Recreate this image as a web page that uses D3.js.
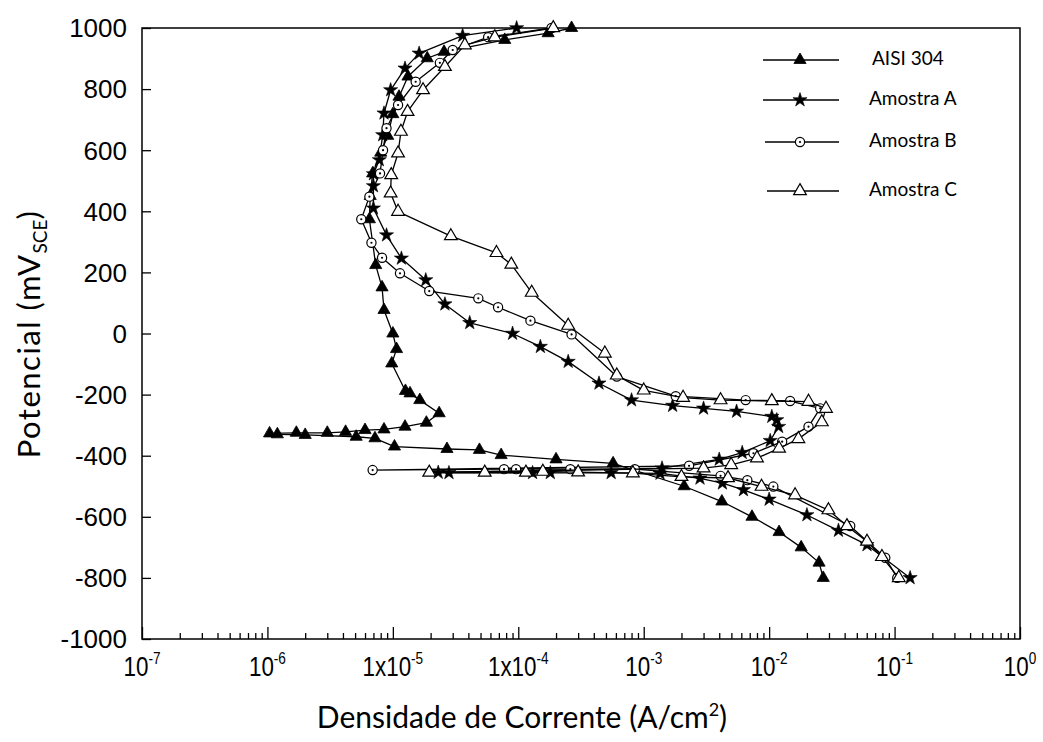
<!DOCTYPE html>
<html>
<head>
<meta charset="utf-8">
<script src="https://cdn.jsdelivr.net/npm/d3@7"></script>
<style>
  html, body { margin: 0; padding: 0; background: #fff; }
  svg { display: block; }
</style>
</head>
<body>
<svg id="chart" width="1043" height="742"></svg>
<script>
// Potentiodynamic polarization curves: [current density (A/cm²), potential (mV SCE)]
const aisi304 = [
  [0.027,-800],[0.025,-750],[0.018,-700],[0.012,-650],[0.0073,-600],[0.0042,-550],[0.0021,-500],
  [5.7e-4,-425],[2.0e-4,-412],[7.3e-5,-398],[4.9e-5,-381],[2.7e-5,-378],[1.03e-5,-370],[7.2e-6,-343],
  [5.1e-6,-338],[2.0e-6,-332],[1.2e-6,-330],[1.04e-6,-327],[1.7e-6,-325],[3.0e-6,-325],[4.2e-6,-322],
  [6.0e-6,-316],[8.5e-6,-314],[1.25e-5,-305],[1.85e-5,-292],[2.34e-5,-261],[1.64e-5,-218],[1.37e-5,-196],
  [1.26e-5,-188],[9.8e-6,-98],[1.07e-5,-51],[1.0e-5,0],[8.5e-6,77],[8.2e-6,151],[7.3e-6,224],
  [6.5e-6,374],[6.6e-6,450],[6.9e-6,524],[8.0e-6,592],[9.1e-6,647],[1.0e-5,718],[1.12e-5,775],
  [1.32e-5,841],[1.88e-5,901],[2.56e-5,922],[7.8e-5,961],[1.73e-4,983],[2.66e-4,1000]
];
const amostraA = [
  [0.133,-800],[0.0603,-692],[0.0357,-645],[0.020,-594],[0.010,-543],[0.00624,-512],[0.00424,-490],
  [0.00281,-474],[0.00135,-458],[5.5e-4,-456],[1.8e-4,-456],[1.3e-4,-456],[2.8e-5,-456],[2.3e-5,-455],
  [1.4e-3,-441],[4.0e-3,-412],[6.1e-3,-390],[1.02e-2,-351],[1.19e-2,-305],[1.15e-2,-283],[1.05e-2,-272],
  [5.5e-3,-255],[3.0e-3,-245],[1.7e-3,-236],[8.0e-4,-218],[4.4e-4,-163],[2.5e-4,-92],[1.5e-4,-43],
  [9.0e-5,0],[4.1e-5,35],[2.6e-5,96],[1.83e-5,175],[1.17e-5,246],[8.9e-6,322],[7.0e-6,410],
  [7.0e-6,483],[7.0e-6,522],[7.8e-6,568],[8.3e-6,650],[8.5e-6,721],[9.6e-6,797],[1.25e-5,868],
  [1.62e-5,917],[3.6e-5,975],[9.7e-5,1000]
];
const amostraB = [
  [0.105,-800],[0.0843,-734],[0.0443,-630],[0.0108,-501],[6.7e-3,-480],[4.1e-3,-466],[8.5e-4,-444],
  [2.6e-4,-444],[9.6e-5,-444],[7.7e-5,-444],[6.9e-6,-447],
  [2.3e-3,-433],[7.5e-3,-392],[1.27e-2,-354],[2.06e-2,-305],[2.55e-2,-245],[1.47e-2,-221],[6.5e-3,-218],
  [1.8e-3,-205],[6.1e-4,-141],[2.66e-4,-3],[1.25e-4,42],[6.9e-5,86],[4.8e-5,115],[1.95e-5,139],
  [1.14e-5,197],[8.2e-6,248],[6.75e-6,297],[5.6e-6,374],[6.5e-6,448],[7.9e-6,524],[8.35e-6,600],
  [8.9e-6,672],[1.1e-5,748],[1.52e-5,824],[2.37e-5,886],[3.0e-5,928],[5.75e-5,970],[1.84e-4,1000]
];
const amostraC = [
  [0.108,-800],[0.0793,-731],[0.0603,-681],[0.0417,-630],[0.0297,-578],[0.0161,-529],[8.7e-3,-501],
  [4.7e-3,-473],[2.0e-3,-469],[8.2e-4,-457],[3.0e-4,-454],[1.57e-4,-452],[1.15e-4,-455],[5.4e-5,-455],
  [1.95e-5,-455],
  [3.0e-3,-441],[4.98e-3,-430],[8.0e-3,-408],[1.2e-2,-376],[1.71e-2,-345],[2.63e-2,-290],[2.84e-2,-246],
  [2.06e-2,-223],[1.05e-2,-221],[4.1e-3,-218],[2.06e-3,-210],[1.0e-3,-186],[6.1e-4,-137],[4.9e-4,-65],
  [2.5e-4,26],[1.28e-4,134],[8.8e-5,226],[6.7e-5,264],[2.9e-5,319],[1.1e-5,399],[9.6e-6,459],
  [9.7e-6,519],[1.1e-5,590],[1.16e-5,661],[1.31e-5,726],[1.74e-5,797],[2.6e-5,873],[3.75e-5,944],
  [6.5e-5,970],[1.9e-4,1000]
];

const seriesNames = ["AISI 304", "Amostra A", "Amostra B", "Amostra C"];
const seriesMarkers = ["filledTriangle", "star", "dotCircle", "openTriangle"];
const xTickValues = [1e-7, 1e-6, 1e-5, 1e-4, 1e-3, 1e-2, 1e-1, 1];
const xTickBases = ["10", "10", "1x10", "1x10", "10", "10", "10", "10"];
const xTickExps = ["-7", "-6", "-5", "-4", "-3", "-2", "-1", "0"];
const yTickValues = [-1000, -800, -600, -400, -200, 0, 200, 400, 600, 800, 1000];
const xTitle = "Densidade de Corrente (A/cm";
const yTitle = "Potencial (mV";

const W = 1043, H = 742;
const margin = { left: 142, right: 23, top: 28, bottom: 103 };
const svg = d3.select("#chart");

const x = d3.scaleLog().domain([1e-7, 1]).range([margin.left, W - margin.right]);
const y = d3.scaleLinear().domain([-1000, 1000]).range([H - margin.bottom, margin.top]);

// frame
svg.append("rect")
  .attr("x", margin.left).attr("y", margin.top)
  .attr("width", W - margin.left - margin.right)
  .attr("height", H - margin.top - margin.bottom)
  .attr("fill", "none").attr("stroke", "#000").attr("stroke-width", 1.5);

// x axis: inward major and minor ticks
const minorTicks = [];
for (let e = -7; e < 0; e++) for (let m = 2; m <= 9; m++) minorTicks.push(m * Math.pow(10, e));

const xAxisG = svg.append("g").attr("transform", `translate(0,${H - margin.bottom})`);
xAxisG.call(d3.axisBottom(x).tickValues(xTickValues).tickSize(-12).tickFormat(""));
xAxisG.append("g").call(d3.axisBottom(x).tickValues(minorTicks).tickSize(-6).tickFormat(""));
xAxisG.selectAll(".domain").remove();
xAxisG.selectAll("line").attr("stroke", "#000").attr("stroke-width", 1.3);

const xLabels = svg.append("g")
  .style("font-family", "'Liberation Sans Narrow', 'Arial Narrow', 'Liberation Sans', sans-serif")
  .attr("fill", "#000");
xTickValues.forEach((v, i) => {
  const t = xLabels.append("text")
    .attr("transform", `translate(${x(v)},676) scale(0.8,1)`)
    .attr("text-anchor", "middle")
    .attr("font-size", 28);
  t.append("tspan").text(xTickBases[i]);
  t.append("tspan").attr("dy", -12).attr("font-size", 17).text(xTickExps[i]);
});

// y axis
const yAxisG = svg.append("g").attr("transform", `translate(${margin.left},0)`);
yAxisG.call(d3.axisLeft(y).tickValues(yTickValues).tickSize(-9).tickFormat(""));
yAxisG.selectAll(".domain").remove();
yAxisG.selectAll("line").attr("stroke", "#000").attr("stroke-width", 1.3);

svg.append("g")
  .style("font-family", "'Liberation Sans', Arial, sans-serif")
  .selectAll("text").data(yTickValues).join("text")
  .attr("x", 127).attr("y", d => y(d)).attr("dy", "0.36em")
  .attr("text-anchor", "end").attr("font-size", 26).attr("fill", "#000")
  .text(d => d);

// axis titles
const xt = svg.append("text")
  .attr("x", 522).attr("y", 728)
  .attr("text-anchor", "middle")
  .style("font-family", "Lato, 'Open Sans', sans-serif")
  .attr("font-size", 30).attr("fill", "#000");
xt.append("tspan").text(xTitle);
xt.append("tspan").attr("dy", -12).attr("font-size", 18).text("2");
xt.append("tspan").attr("dy", 12).text(")");

const yt = svg.append("text")
  .attr("transform", "translate(40,334) rotate(-90)")
  .attr("text-anchor", "middle")
  .style("font-family", "Lato, 'Open Sans', sans-serif")
  .style("letter-spacing", "1.5px")
  .attr("font-size", 31).attr("fill", "#000");
yt.append("tspan").text(yTitle);
yt.append("tspan").attr("dy", 7).attr("font-size", 19).style("letter-spacing", "0px").text("SCE");
yt.append("tspan").attr("dy", -7).text(")");

// markers
function drawMarker(g, type) {
  if (type === "filledTriangle") {
    g.append("path").attr("d", d3.symbol(d3.symbolTriangle, 64)())
      .attr("fill", "#000").attr("stroke", "#000").attr("stroke-width", 0.8);
  } else if (type === "star") {
    g.append("path").attr("d", d3.symbol(d3.symbolStar, 62)())
      .attr("fill", "#000").attr("stroke", "#000").attr("stroke-width", 0.6);
  } else if (type === "dotCircle") {
    g.append("circle").attr("r", 4.6).attr("fill", "#fff").attr("stroke", "#000").attr("stroke-width", 1.2);
    g.append("circle").attr("r", 1.1).attr("fill", "#000");
  } else {
    g.append("path").attr("d", d3.symbol(d3.symbolTriangle, 70)())
      .attr("fill", "#fff").attr("stroke", "#000").attr("stroke-width", 1.2);
  }
}

const allSeries = [aisi304, amostraA, amostraB, amostraC];
const line = d3.line().x(d => x(d[0])).y(d => y(d[1]));

allSeries.forEach((data, si) => {
  const g = svg.append("g");
  g.append("path").datum(data)
    .attr("d", line)
    .attr("fill", "none").attr("stroke", "#000").attr("stroke-width", 1.3)
    .attr("stroke-linejoin", "round");
  g.selectAll("g.pt").data(data).join("g")
    .attr("class", "pt")
    .attr("transform", d => `translate(${x(d[0])},${y(d[1])})`)
    .each(function () { drawMarker(d3.select(this), seriesMarkers[si]); });
});

// legend
const legendY = [60, 100, 142, 191];
const legendX0 = [763, 763, 765, 767];
const legend = svg.append("g");
seriesNames.forEach((name, i) => {
  const row = legend.append("g");
  row.append("line")
    .attr("x1", legendX0[i]).attr("x2", 839)
    .attr("y1", legendY[i]).attr("y2", legendY[i])
    .attr("stroke", "#000").attr("stroke-width", 1.4);
  const m = row.append("g").attr("transform", `translate(800,${legendY[i]})`);
  drawMarker(m, seriesMarkers[i]);
  row.append("text")
    .attr("x", i === 0 ? 872 : 869).attr("y", legendY[i] - 2).attr("dy", "0.35em")
    .style("font-family", "Lato, 'Open Sans', sans-serif")
    .attr("font-size", 19).attr("fill", "#000")
    .text(name);
});
</script>
</body>
</html>
